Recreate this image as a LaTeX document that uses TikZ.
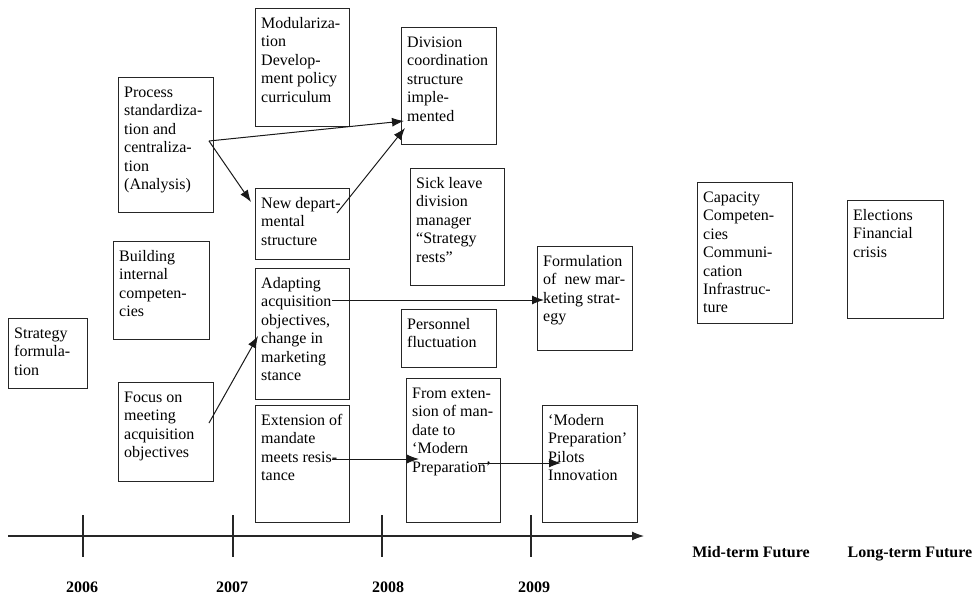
\documentclass[tikz,border=0pt]{standalone}
\usepackage{fontspec}
\setmainfont{Liberation Serif}
\usetikzlibrary{arrows.meta}

\begin{document}
\begin{tikzpicture}[x=1pt,y=-1pt,
  evbox/.style={draw=black!85, line width=1.2pt, rectangle, inner sep=0pt, anchor=north west},
  evtext/.style={anchor=base west, inner sep=0pt, font=\fontsize{16}{18.4}\selectfont},
  link/.style={draw=black!90, line width=1pt, -{Latex[length=12pt,width=9pt]}},
  axisline/.style={draw=black!85, line width=1.1pt},
  yearlbl/.style={anchor=base, inner sep=0pt, font=\fontsize{16}{18}\selectfont\bfseries}]

\useasboundingbox (0,0) rectangle (973,594);

% event boxes: frame first, then its text set from the top-left corner
\newcommand\eventbox[6]{%
  \node[evbox, minimum width=#4pt, minimum height=#5pt] (#1) at (#2,#3) {};
  \node[evtext] (#1-t) at ([shift={(6pt,-20.5pt)}]#1.north west)
    {\parbox[t]{#4pt}{\raggedright #6}};}

\eventbox{strat}{8}{318}{79}{70}{Strategy\\formula-\\tion}
\eventbox{proc}{118}{77}{95}{135}{Process\\standardiza-\\tion and\\centraliza-\\tion\\(Analysis)}
\eventbox{build}{113}{241}{96}{98}{Building\\internal\\competen-\\cies}
\eventbox{focus}{118}{382}{95}{99}{Focus on\\meeting\\acquisition\\objectives}
\eventbox{modul}{255}{8}{94}{118}{Modulariza-\\tion\\Develop-\\ment policy\\curriculum}
\eventbox{dept}{255}{188}{94}{71}{New depart-\\mental\\structure}
\eventbox{adapt}{255}{268}{94}{131}{Adapting\\acquisition\\objectives,\\change in\\marketing\\stance}
\eventbox{ext}{255}{405}{94}{117}{Extension of\\mandate\\meets resis-\\tance}
\eventbox{div}{401}{27}{95}{117}{Division\\coordination\\structure\\imple-\\mented}
\eventbox{sick}{410}{168}{94}{117}{Sick leave\\division\\manager\\“Strategy\\rests”}
\eventbox{pers}{401}{309}{95}{58}{Personnel\\fluctuation}
\eventbox{fromext}{406}{378}{94}{144}{From exten-\\sion of man-\\date to\\‘Modern\\Preparation’}
\eventbox{formul}{537}{246}{95}{104}{Formulation\\of~ new mar-\\keting strat-\\egy}
\eventbox{pilots}{542}{405}{95}{117}{‘Modern\\Preparation’\\Pilots\\Innovation}
\eventbox{capac}{697}{182}{95}{141}{Capacity\\Competen-\\cies\\Communi-\\cation\\Infrastruc-\\ture}
\eventbox{elect}{847}{200}{96}{118}{Elections\\Financial\\crisis}

% connector end points
\coordinate (procOut) at (209,141);
\coordinate (divInA) at (404,121);
\coordinate (deptIn) at (251,202);
\coordinate (deptOut) at (337,213);
\coordinate (divInB) at (405,128);
\coordinate (focusOut) at (209,423);
\coordinate (adaptIn) at (258,336);
\coordinate (adaptOut) at (332,300);
\coordinate (formulIn) at (544,300);
\coordinate (extOut) at (332,459);
\coordinate (fromextIn) at (419,459);
\coordinate (fromextOut) at (478,463);
\coordinate (pilotsIn) at (561,463);

\draw[link] (procOut) -- (divInA);
\draw[link] (procOut) -- (deptIn);
\draw[link] (deptOut) -- (divInB);
\draw[link] (focusOut) -- (adaptIn);
\draw[link] (adaptOut) -- (formulIn);
\draw[link] (extOut) -- (fromextIn);
\draw[link] (fromextOut) -- (pilotsIn);

% time axis with yearly ticks
\coordinate (axStart) at (8,536);
\coordinate (axEnd) at (644,536);
\draw[axisline, -{Latex[length=12pt,width=9pt]}] (axStart) -- (axEnd);
\foreach \yr/\xt/\xl in {2006/83/82, 2007/233/232, 2008/382/388, 2009/531/534}{
  \coordinate (tickTop\yr) at (\xt,515);
  \coordinate (tickBot\yr) at (\xt,557);
  \draw[axisline] (tickTop\yr) -- (tickBot\yr);
  \node[yearlbl] (year\yr) at (\xl,592) {\yr};
}
\node[yearlbl] (midterm) at (751,557) {Mid-term Future};
\node[yearlbl] (longterm) at (910,557) {Long-term Future};

\end{tikzpicture}
\end{document}
